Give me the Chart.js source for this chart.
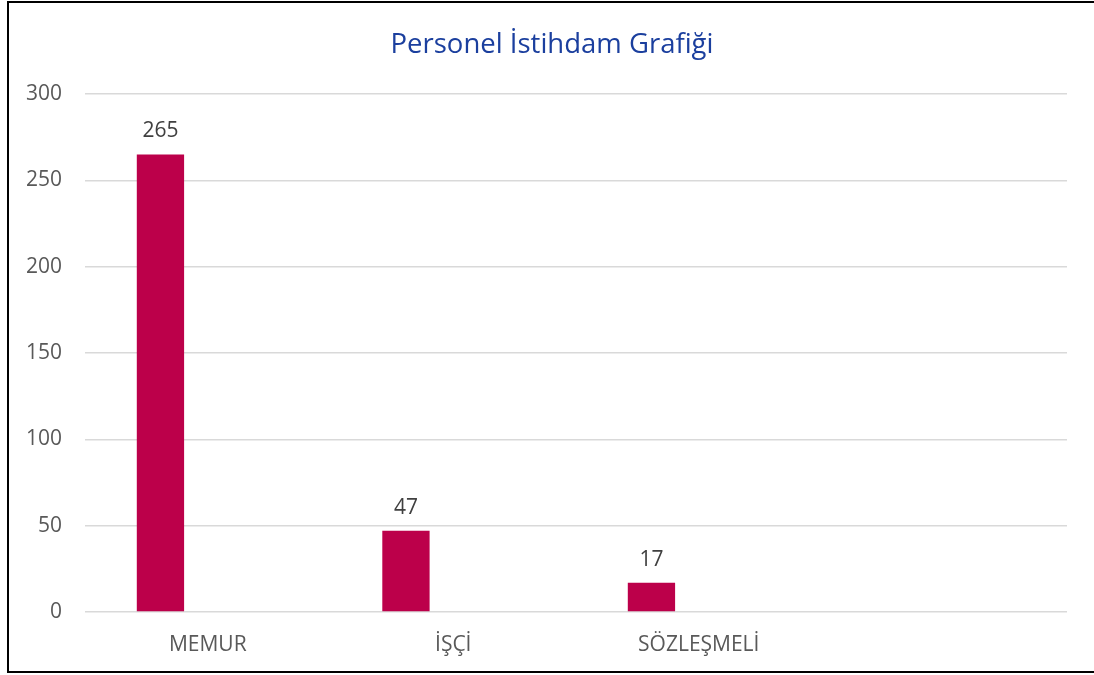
<!DOCTYPE html>
<html>
<head>
<meta charset="utf-8">
<script src="https://cdn.jsdelivr.net/npm/chart.js@4"></script>
<style>
  html, body { margin: 0; padding: 0; background: #fff; overflow: hidden; }
  #wrap { position: relative; width: 1094px; height: 675px; }
  #frame {
    position: absolute; left: 7px; top: 1px; width: 1100px; height: 672px;
    box-sizing: border-box; border: 2px solid #000; pointer-events: none;
  }
</style>
</head>
<body>
<div id="wrap">
  <canvas id="personel-chart" width="1094" height="675"></canvas>
  <div id="frame"></div>
</div>
<script>
// chart data
const categories = ['MEMUR', 'İŞÇİ', 'SÖZLEŞMELİ', ''];
const personelValues = [265, 47, 17, null];
const emptySeries2 = [null, null, null, null];
const emptySeries3 = [null, null, null, null];
const yTicks = [0, 50, 100, 150, 200, 250, 300];
const chartTitle = 'Personel İstihdam Grafiği';

const barColor = '#BC004A';

// title is centred on the outer frame, not the canvas, so draw it by hand
const frameTitle = {
  id: 'frameTitle',
  afterDraw(chart) {
    const ctx = chart.ctx;
    ctx.save();
    ctx.font = '27.5px "Open Sans"';
    ctx.fillStyle = '#1B3F9E';
    ctx.textAlign = 'center';
    ctx.textBaseline = 'alphabetic';
    ctx.fillText(chartTitle, 552, 53);
    ctx.restore();
  }
};

// draws the value above each bar of the first series
const valueLabels = {
  id: 'valueLabels',
  afterDatasetsDraw(chart) {
    const ctx = chart.ctx;
    const meta = chart.getDatasetMeta(0);
    ctx.save();
    ctx.font = '21px "Open Sans"';
    ctx.fillStyle = '#404040';
    ctx.textAlign = 'center';
    ctx.textBaseline = 'alphabetic';
    meta.data.forEach((bar, i) => {
      const v = personelValues[i];
      if (v == null) return;
      ctx.fillText(String(v), bar.x, bar.y - 17);
    });
    ctx.restore();
  }
};

const ctx = document.getElementById('personel-chart').getContext('2d');
new Chart(ctx, {
  type: 'bar',
  data: {
    labels: categories,
    datasets: [
      { label: 'Personel', data: personelValues, backgroundColor: barColor },
      { label: 'Seri 2', data: emptySeries2, backgroundColor: barColor },
      { label: 'Seri 3', data: emptySeries3, backgroundColor: barColor }
    ]
  },
  options: {
    responsive: false,
    animation: false,
    layout: { padding: { left: 0, right: 27, top: 94, bottom: 0 } },
    datasets: { bar: { categoryPercentage: 0.578, barPercentage: 1 } },
    plugins: {
      legend: { display: false },
      tooltip: { enabled: false },
      title: { display: false }
    },
    scales: {
      x: {
        grid: { display: false, drawTicks: false },
        border: { display: false },
        ticks: { color: '#595959', font: { family: '"Open Sans"', size: 21 }, padding: 20, maxRotation: 0 },
        afterFit(scale) { scale.height = 63; }
      },
      y: {
        min: 0,
        max: 300,
        afterBuildTicks(scale) { scale.ticks = yTicks.map(v => ({ value: v })); },
        grid: { color: '#D9D9D9', lineWidth: 1.5, drawTicks: false },
        border: { display: false },
        ticks: { color: '#595959', font: { family: '"Open Sans"', size: 21 }, padding: 23 },
        afterFit(scale) { scale.width = 85; }
      }
    }
  },
  plugins: [valueLabels, frameTitle]
});
</script>
</body>
</html>
